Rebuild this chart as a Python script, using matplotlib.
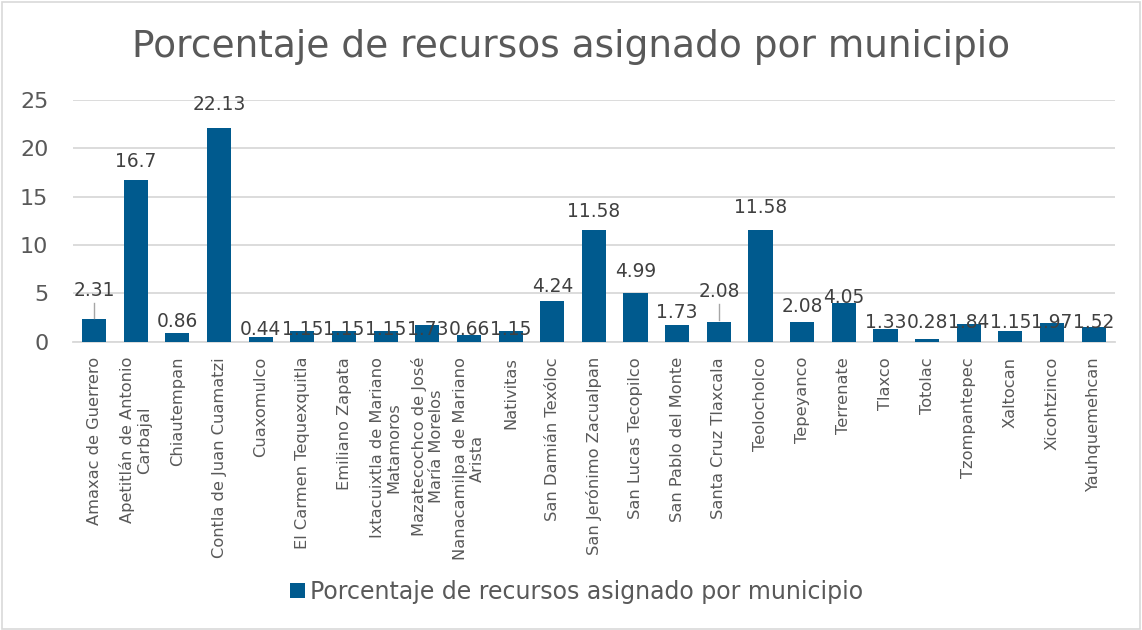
import matplotlib
matplotlib.use("Agg")
import matplotlib.pyplot as plt
from matplotlib.patches import Rectangle

municipios = [
    "Amaxac de Guerrero", "Apetitlán de Antonio\nCarbajal", "Chiautempan",
    "Contla de Juan Cuamatzi", "Cuaxomulco", "El Carmen Tequexquitla",
    "Emiliano Zapata", "Ixtacuixtla de Mariano\nMatamoros",
    "Mazatecochco de José\nMaría Morelos", "Nanacamilpa de Mariano\nArista",
    "Nativitas", "San Damián Texóloc", "San Jerónimo Zacualpan",
    "San Lucas Tecopilco", "San Pablo del Monte", "Santa Cruz Tlaxcala",
    "Teolocholco", "Tepeyanco", "Terrenate", "Tlaxco", "Totolac",
    "Tzompantepec", "Xaltocan", "Xicohtzinco", "Yauhquemehcan",
]
porcentajes = [2.31, 16.7, 0.86, 22.13, 0.44, 1.15, 1.15, 1.15, 1.73, 0.66,
               1.15, 4.24, 11.58, 4.99, 1.73, 2.08, 11.58, 2.08, 4.05, 1.33,
               0.28, 1.84, 1.15, 1.97, 1.52]
y_ticks = [0, 5, 10, 15, 20, 25]
serie = "Porcentaje de recursos asignado por municipio"
titulo = "Porcentaje de recursos asignado por municipio"

# label offsets above bar top (pixels), as dragged in the original
label_offset_px = [23.4, 13.5, 6.4, 17.7, 2.4, -4.4, -4.4, -4.4, -10.1, 0.3,
                   -4.4, 8.7, 12.7, 16.4, 7.0, 24.6, 16.7, 9.6, -0.5, 0.9,
                   11.0, -4.0, 2.6, -5.3, -1.0]
leader = [True] + [False] * 14 + [True] + [False] * 9

BAR = "#005A8E"
GRID = "#D9D9D9"
TXT = "#595959"
LBL = "#404040"

plt.rcParams["font.family"] = ["DejaVu Sans"]
fig = plt.figure(figsize=(11.42, 6.30), dpi=100)
ax = fig.add_axes([73.3 / 1142, 1 - 341.7 / 630, (1114.5 - 73.3) / 1142, (341.7 - 100) / 630])

x = list(range(len(municipios)))
bars = ax.bar(x, porcentajes, width=0.58, color=BAR, label=serie, zorder=3)
ax.set_xlim(-0.5, len(municipios) - 0.5)
ax.set_ylim(0, 25)
ax.set_yticks(y_ticks)
ax.set_yticklabels([str(t) for t in y_ticks], fontsize=16, color=TXT)
ax.grid(axis="y", color=GRID, linewidth=1.3, zorder=0)
for s in ["top", "right", "left"]:
    ax.spines[s].set_visible(False)
ax.spines["bottom"].set_color(GRID)
ax.spines["bottom"].set_linewidth(1.3)
ax.tick_params(axis="y", length=0, pad=18)
ax.tick_params(axis="x", length=0, pad=11)
ax.set_xticks(x)
ax.set_xticklabels(municipios, rotation=90, fontsize=11.7, color=TXT,
                   linespacing=1.15)

for i, v in enumerate(porcentajes):
    off = label_offset_px[i]
    ax.annotate(f"{v:g}", xy=(i, v), xytext=(0, off), textcoords="offset pixels",
                ha="center", va="baseline", fontsize=13.4, color=LBL, zorder=5)
    if leader[i]:
        ax.plot([i, i], [v + 1.5 / 9.67, v + (off - 7) / 9.67], color="#A6A6A6",
                linewidth=1, zorder=4)

fig.text(0.5, 1 - 47 / 630, titulo, ha="center", va="center", fontsize=27, color=TXT)

leg = fig.legend(handles=[bars], labels=[serie], loc="center",
                 bbox_to_anchor=(577 / 1142, 1 - 592 / 630), frameon=False,
                 fontsize=17, handlelength=0.6, handleheight=0.6,
                 handletextpad=0.25, labelcolor=TXT)

fig.patches.append(Rectangle((2 / 1142, 1 / 630), 1138 / 1142, 627 / 630,
                             transform=fig.transFigure, fill=False,
                             edgecolor=GRID, linewidth=1.2))

fig.savefig("out.png", dpi=100)
